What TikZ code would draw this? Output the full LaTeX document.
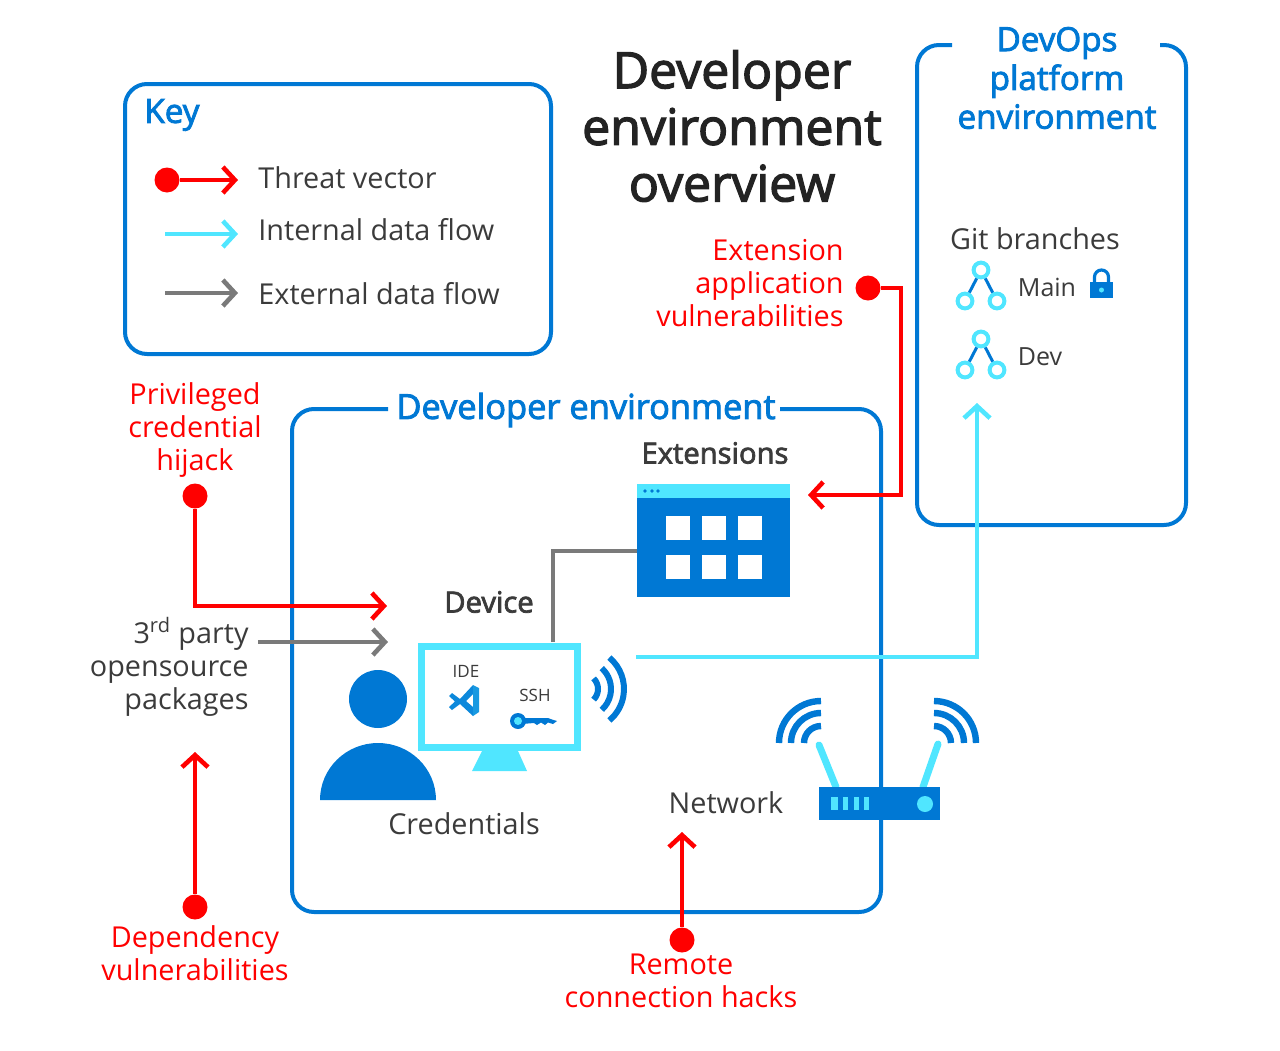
\documentclass[tikz,border=0pt]{standalone}
\usepackage{fontspec}
\setmainfont{Open Sans}
\newfontfamily\semibold[FakeBold=2.6]{Open Sans}
\usetikzlibrary{arrows.meta}
\definecolor{azureblue}{HTML}{0078D4}
\definecolor{azurecyan}{HTML}{50E6FF}
\definecolor{threatred}{HTML}{FF0000}
\definecolor{flowgray}{HTML}{7A7A7A}
\definecolor{inktext}{HTML}{3B3B3B}
\tikzset{
  panel/.style={draw=azureblue,line width=2pt,rounded corners=11pt},
  tipped/.style={-{Straight Barb[length=6pt,width=13pt,line width=2.3pt]}},
  threat/.style={draw=threatred,line width=2.1pt,tipped},
  inflow/.style={draw=azurecyan,line width=2.1pt},
  exflow/.style={draw=flowgray,line width=2.1pt},
  threatdot/.style={circle,fill=threatred,inner sep=0pt,minimum size=12.5pt},
  bodytext/.style={text=inktext,font=\fontsize{14.4}{16.6}\selectfont,inner sep=0pt},
  redtext/.style={text=threatred,font=\fontsize{14.4}{16.6}\selectfont,inner sep=0pt,align=center},
  bluehead/.style={text=azureblue,font=\semibold\fontsize{16.6}{19.4}\selectfont,inner sep=0pt,align=center},
  darkhead/.style={text=inktext,font=\semibold\fontsize{14.6}{16}\selectfont,inner sep=0pt},
  smalltext/.style={text=inktext,font=\fontsize{12.5}{15}\selectfont,inner sep=0pt},
  tinytext/.style={text=inktext,font=\fontsize{8.5}{10}\selectfont,inner sep=0pt},
  wave/.style={draw=azureblue,line width=3pt},
  gitnode/.style={circle,draw=azurecyan,fill=white,line width=2pt,inner sep=0pt,minimum size=7.4pt},
}
\begin{document}
\begin{tikzpicture}[x=1pt,y=1pt,xscale=.5,yscale=-.5]
  \useasboundingbox (0,0) rectangle (1280,1050);
  % key
  \draw[panel] (125,84) rectangle (551,354);
  \node[bluehead,anchor=west] (keytitle) at (144,115) {Key};
  \node[threatdot] (keydot) at (167,180) {};
  \coordinate (keyredend) at (238,180);
  \coordinate (keycyanstart) at (165,234);
  \coordinate (keycyanend) at (238,234);
  \coordinate (keygraystart) at (165,293);
  \coordinate (keygrayend) at (238,293);
  \draw[threat] (keydot) -- (keyredend);
  \draw[inflow,tipped] (keycyanstart) -- (keycyanend);
  \draw[exflow,tipped] (keygraystart) -- (keygrayend);
  \node[bodytext,anchor=west] (keythreat) at (258,178) {Threat vector};
  \node[bodytext,anchor=west] (keyinternal) at (258,230) {Internal data flow};
  \node[bodytext,anchor=west] (keyexternal) at (258,294) {External data flow};
  % titles
  \node[text=inktext!60!black,font=\semibold\fontsize{25}{28.3}\selectfont,align=center,inner sep=0pt] (maintitle) at (732,126) {Developer\\environment\\overview};
  % devops platform
  \draw[panel] (952,45) -- (917,45) -- (917,525) -- (1186,525) -- (1186,45) -- (1160,45);
  \node[bluehead] (devopstitle) at (1057,78) {DevOps\\platform\\environment};
  \node[bodytext] (gitbranches) at (1035,239) {Git branches};
  \foreach \gname/\gy in {main/270,dev/339}{
    \node[gitnode] (\gname top) at (981,\gy) {};
    \node[gitnode] (\gname left) at (965,\gy+31) {};
    \node[gitnode] (\gname right) at (997,\gy+31) {};
    \draw[azureblue,line width=1.5pt] (\gname top) -- (\gname left);
    \draw[azureblue,line width=1.5pt] (\gname top) -- (\gname right);
  }
  \node[smalltext] (mainlabel) at (1047,287) {Main};
  \node[smalltext] (devlabel) at (1040,357) {Dev};
  \draw[azureblue,line width=1.6pt] (1094.5,284) -- (1094.5,277) arc[start angle=180,end angle=360,radius=7] -- (1108.5,284);
  \fill[azureblue] (1090,282) rectangle (1113,298);
  \fill[azurecyan] (1101.5,290) circle (2.5);
  % developer environment
  \draw[panel] (388,409) -- (292,409) -- (292,912) -- (881,912) -- (881,409) -- (780,409);
  \node[bluehead,font=\semibold\fontsize{17.2}{20}\selectfont] (devenvtitle) at (586,410) {Developer environment};
  % extensions
  \node[darkhead] (extlabel) at (715,453) {Extensions};
  \fill[azureblue] (637,484) rectangle (790,597);
  \fill[azurecyan] (637,484) rectangle (790,498);
  \foreach \dx in {645,652,658}
    \fill[azureblue] (\dx,491) circle (1.8);
  \foreach \sx in {666,702,738}
    \foreach \sy in {516,555}
      \fill[white] (\sx,\sy) rectangle (\sx+23.5,\sy+24);
  \coordinate (extport) at (637,551);
  % device
  \node[darkhead] (devicelabel) at (489,602) {Device};
  \node[draw=azurecyan,line width=3.7pt,fill=white,minimum width=77.8pt,minimum height=50.5pt,inner sep=0pt] (monitor) at (499.5,697) {};
  \fill[azurecyan] (482,751) -- (518,751) -- (527,771) -- (472,771) -- cycle;
  \coordinate (deviceport) at (553,642);
  \draw[exflow,miter limit=10] (deviceport) |- (extport);
  \node[tinytext] (idelabel) at (466,671) {IDE};
  \node[tinytext] (sshlabel) at (535,695) {SSH};
  % ide icon
  \fill[azureblue!85!azurecyan] (449,696) -- (452,693) -- (460,699) -- (473,685) -- (473,694) -- (466,701) -- (473,707) -- (473,716) -- (460,704) -- (452,710) -- (449,707) -- (455,701.5) -- cycle;
  \fill[azureblue!70!azurecyan] (473,685) -- (479,688) -- (479,712) -- (473,716) -- cycle;
  % ssh key
  \fill[azureblue] (522,718) -- (548,718) -- (552,719.5) -- (557,721) -- (553,724) -- (548,722.5) -- (545,725) -- (541,722.5) -- (537,725) -- (534,723) -- (522,724) -- cycle;
  \fill[azureblue] (518,721) circle (8);
  \fill[azurecyan] (518,721) circle (4);
  % device wifi
  \foreach \rad/\ang in {15/45,28/48,41/50}
    \draw[wave] (583,689) ++(-\ang:\rad) arc[start angle=-\ang,end angle=\ang,radius=\rad];
  % person
  \fill[azureblue] (378,699) circle (29);
  \fill[azureblue] (320,800) arc[start angle=180,end angle=360,x radius=58,y radius=57] -- cycle;
  \node[bodytext] (credlabel) at (464,824) {Credentials};
  % network
  \node[bodytext] (netlabel) at (726,803) {Network};
  \draw[azurecyan,line width=3.5pt,line cap=round] (819,745) -- (836,787);
  \draw[azurecyan,line width=3.5pt,line cap=round] (938,744) -- (923,787);
  \foreach \rad in {17,30,42}{
    \draw[draw=azureblue,line width=3.2pt] (821,743) ++(180:\rad) arc[start angle=180,end angle=270,radius=\rad];
    \draw[draw=azureblue,line width=3.2pt] (934,743) ++(-90:\rad) arc[start angle=-90,end angle=0,radius=\rad];
  }
  \fill[azureblue] (819,787) rectangle (940,820);
  \foreach \bx/\bw in {831/7,843/5,854/5,864/5}
    \fill[azurecyan] (\bx,797) rectangle (\bx+\bw,810);
  \fill[azurecyan] (925,804) circle (8);
  % flows
  \coordinate (wifiport) at (636,657);
  \coordinate (gitport) at (977,403);
  \draw[inflow,tipped] (wifiport) -| (gitport);
  \node[bodytext,align=right,anchor=east] (thirdparty) at (249,667) {3\textsuperscript{rd} party\\opensource\\packages};
  \coordinate (thirdportstart) at (258,642);
  \coordinate (thirdportend) at (388,642);
  \draw[exflow,tipped] (thirdportstart) -- (thirdportend);
  % threats
  \node[redtext,align=right,anchor=east] (extvuln) at (844,283) {Extension\\application\\vulnerabilities};
  \node[threatdot] (extdot) at (868,288) {};
  \coordinate (extbend) at (901,288);
  \coordinate (extend) at (808,495);
  \draw[threat] (extdot) -- (extbend) |- (extend);
  \node[redtext] (hijack) at (195,430) {Privileged\\credential\\hijack};
  \node[threatdot] (hijackdot) at (195,496) {};
  \coordinate (hijackend) at (387,606);
  \draw[threat] (hijackdot) |- (hijackend);
  \node[redtext] (depvuln) at (195,953) {Dependency\\vulnerabilities};
  \node[threatdot] (depdot) at (195,907) {};
  \coordinate (depend) at (195,752);
  \draw[threat] (depdot) -- (depend);
  \node[redtext] (remote) at (681,981) {Remote\\connection hacks};
  \node[threatdot] (remotedot) at (682,940) {};
  \coordinate (remoteend) at (682,832);
  \draw[threat] (remotedot) -- (remoteend);
\end{tikzpicture}
\end{document}
